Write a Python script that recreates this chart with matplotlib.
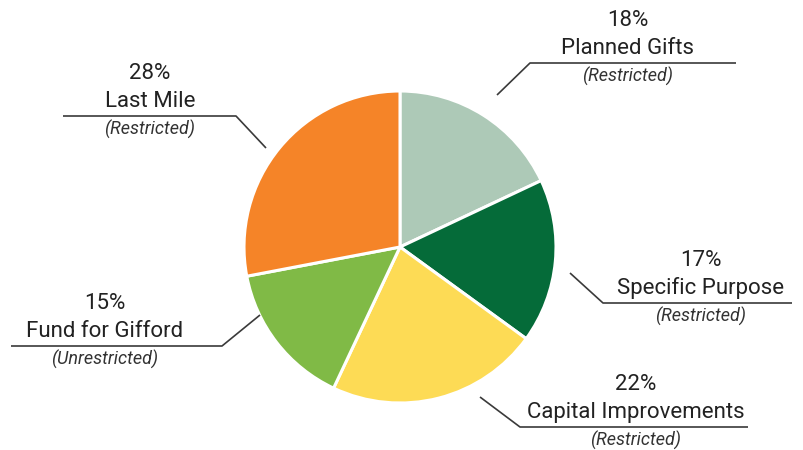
import math

import matplotlib
matplotlib.use("Agg")
import matplotlib.pyplot as plt

# Data
categories = ["Planned Gifts", "Specific Purpose", "Capital Improvements",
              "Fund for Gifford", "Last Mile"]
shares = [18, 17, 22, 15, 28]
notes = ["(Restricted)", "(Restricted)", "(Restricted)",
         "(Unrestricted)", "(Restricted)"]
colors = ["#adc9b7", "#056b39", "#fddb55", "#80ba46", "#f58428"]

# Layout in pixel space (y measured from top of image)
W, H = 804, 450
CENTER = (400, 247)
RADIUS = 156

# per label: text centre x, leader start, elbow, end of underline (underline y = elbow y)
LABELS = [
    dict(tx=628, start=(497, 95), elbow=(530, 63), end=(736, 63)),
    dict(tx=701, start=(570, 273), elbow=(603, 303), end=(792, 303)),
    dict(tx=636, start=(480, 397), elbow=(520, 427), end=(748, 427)),
    dict(tx=105, start=(260, 315), elbow=(222, 346), end=(11, 346)),
    dict(tx=150, start=(266, 148), elbow=(236, 116), end=(63, 116)),
]

plt.rcParams["font.family"] = ["Roboto", "DejaVu Sans"]

fig = plt.figure(figsize=(W / 100, H / 100), dpi=100)
ax = fig.add_axes([0, 0, 1, 1])

ax.pie(shares, colors=colors, startangle=90, counterclock=False,
       center=(CENTER[0], H - CENTER[1]), radius=RADIUS,
       wedgeprops=dict(edgecolor="white", linewidth=2.2))

ax.set_xlim(0, W)
ax.set_ylim(0, H)
ax.set_aspect("equal")
ax.axis("off")


def fy(y):
    return H - y


for name, pct, note, lay in zip(categories, shares, notes, LABELS):
    xs = [lay["start"][0], lay["elbow"][0], lay["end"][0]]
    ys = [fy(lay["start"][1]), fy(lay["elbow"][1]), fy(lay["end"][1])]
    ax.plot(xs, ys, color="#3a3a3a", lw=1.2, solid_capstyle="butt")

    line_y = lay["elbow"][1]
    ax.text(lay["tx"], fy(line_y - 37), f"{pct}%", ha="center", va="baseline",
            fontsize=16, color="#222222")
    ax.text(lay["tx"], fy(line_y - 9), name, ha="center", va="baseline",
            fontsize=16, color="#222222")
    ax.text(lay["tx"], fy(line_y + 19), note, ha="center", va="baseline",
            fontsize=13, style="italic", color="#333333")

fig.savefig("out.png", dpi=100, facecolor="white")
